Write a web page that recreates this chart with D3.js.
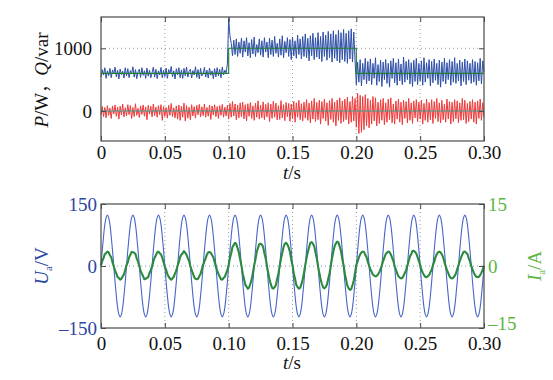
<!DOCTYPE html>
<html><head><meta charset="utf-8">
<script src="https://cdn.jsdelivr.net/npm/d3@7"></script>
<style>
html,body{margin:0;padding:0;background:#fff;}
svg{display:block;font-family:"Liberation Serif","Times New Roman",serif;}
</style></head>
<body>
<svg id="chart" width="553" height="380"></svg>
<script>
// ---------- DATA ----------
const sampleStep = 0.001; // s, samples 0 .. 0.300
const xTicks = [0, 0.05, 0.10, 0.15, 0.20, 0.25, 0.30];
const xTickLabels = ["0", "0.05", "0.10", "0.15", "0.20", "0.25", "0.30"];
const topYTicks = [0, 1000];
const topYTickLabels = ["0", "1000"];
const uTicks = [-150, 0, 150];
const uTickLabels = ["\u2013150", "0", "150"];
const iTicks = [-15, 0, 15];
const iTickLabels = ["\u201315", "0", "15"];

// active power P (W)
const pValues = [
540,660,575,690,520,640,565,680,530,655,
590,700,545,650,510,670,580,635,525,690,
560,675,530,645,595,705,540,660,515,625,
665,535,690,570,640,520,685,555,650,530,
610,700,540,665,515,640,575,695,530,650,
550,685,520,660,590,710,545,640,510,675,
575,690,530,655,520,680,560,700,540,630,
665,525,645,575,705,535,660,510,680,560,
590,695,540,650,525,685,570,640,515,675,
545,690,560,665,530,700,575,650,610,750,
1480,1200,1080,880,1130,900,1150,870,1100,920,
1160,860,1120,940,1170,880,1090,850,1140,910,
1180,870,1060,930,1150,890,1120,860,1170,940,
1100,850,1160,900,1130,870,1190,920,1080,860,
1150,890,1200,850,1110,930,1170,870,1140,820,
1180,880,1120,840,1210,900,1150,830,1190,870,
1230,850,1160,800,1200,880,1240,820,1170,860,
1250,830,1190,790,1260,870,1210,810,1270,850,
1230,780,1280,840,1220,800,1290,770,1250,820,
1300,790,1240,760,1280,830,1310,780,1260,800,
420,780,460,820,400,760,500,840,430,790,
480,830,420,760,520,850,410,740,470,810,
390,780,500,820,440,760,380,800,520,840,
450,770,410,830,480,750,420,860,460,790,
500,820,430,770,390,810,470,840,420,760,
480,800,410,850,460,770,520,820,400,790,
450,830,490,760,420,810,380,780,470,840,
430,770,500,820,410,790,460,850,440,760,
480,810,400,780,470,830,420,800,490,760,
440,820,460,790,410,770,480,840,430,800,620
];
// reactive power Q (var)
const qValues = [
-60,70,-90,55,-110,85,-70,45,-120,80,
-50,95,-85,60,-130,75,-65,110,-95,50,
-80,100,-60,85,-120,55,-90,115,-70,40,
-105,80,-55,95,-85,65,-140,90,-50,75,
-95,110,-75,60,-100,85,-60,100,-150,70,
-85,55,-115,90,-70,120,-90,50,-110,80,
-130,95,-150,75,-100,125,-160,85,-115,60,
-140,100,-80,70,-115,90,-60,105,-95,65,
-75,110,-100,55,-85,95,-135,80,-65,100,
-90,70,-120,85,-70,105,-100,60,-80,90,
-130,120,-100,150,-80,110,-140,95,-110,130,
-90,140,-125,100,-160,115,-85,135,-120,80,
-150,125,-100,160,-130,90,-110,145,-140,105,
-95,130,-170,110,-120,155,-100,125,-145,85,
-135,165,-110,100,-155,135,-90,120,-165,110,
-125,150,-180,130,-100,170,-140,115,-160,140,
-115,180,-150,125,-190,160,-130,200,-170,135,
-140,170,-210,150,-120,190,-160,130,-230,165,
-135,200,-180,140,-240,175,-150,210,-200,160,
-170,190,-140,220,-210,150,-180,230,-160,200,
-260,280,-360,250,-340,230,-300,260,-240,200,
-270,170,-210,230,-160,210,-240,140,-200,180,
-150,200,-220,130,-180,190,-140,210,-190,110,
-210,160,-130,190,-180,140,-220,170,-120,150,
-190,200,-150,130,-200,160,-110,180,-170,140,
-130,170,-210,120,-150,190,-180,135,-140,180,
-200,150,-120,200,-170,130,-190,170,-140,110,
-180,190,-130,150,-210,140,-170,180,-125,160,
-190,130,-150,200,-140,170,-200,120,-170,150,
-130,180,-180,140,-210,160,-120,190,-150,130,-100
];
// reference values (step changes)
const refTimes = [0, 0.10, 0.20, 0.30];
const pRef = [600, 1000, 600, 600];
const qRef = [0, 0, 0, 0];

// phase voltage Ua (V)
const uValues = [
0,38,72,100,117,123,117,100,72,38,0,-38,-72,-100,-117,-123,-117,-100,-72,-38,
0,38,72,100,117,123,117,100,72,38,0,-38,-72,-100,-117,-123,-117,-100,-72,-38,
0,38,72,100,117,123,117,100,72,38,0,-38,-72,-100,-117,-123,-117,-100,-72,-38,
0,38,72,100,117,123,117,100,72,38,0,-38,-72,-100,-117,-123,-117,-100,-72,-38,
0,38,72,100,117,123,117,100,72,38,0,-38,-72,-100,-117,-123,-117,-100,-72,-38,
0,38,72,100,117,123,117,100,72,38,0,-38,-72,-100,-117,-123,-117,-100,-72,-38,
0,38,72,100,117,123,117,100,72,38,0,-38,-72,-100,-117,-123,-117,-100,-72,-38,
0,38,72,100,117,123,117,100,72,38,0,-38,-72,-100,-117,-123,-117,-100,-72,-38,
0,38,72,100,117,123,117,100,72,38,0,-38,-72,-100,-117,-123,-117,-100,-72,-38,
0,38,72,100,117,123,117,100,72,38,0,-38,-72,-100,-117,-123,-117,-100,-72,-38,
0,38,72,100,117,123,117,100,72,38,0,-38,-72,-100,-117,-123,-117,-100,-72,-38,
0,38,72,100,117,123,117,100,72,38,0,-38,-72,-100,-117,-123,-117,-100,-72,-38,
0,38,72,100,117,123,117,100,72,38,0,-38,-72,-100,-117,-123,-117,-100,-72,-38,
0,38,72,100,117,123,117,100,72,38,0,-38,-72,-100,-117,-123,-117,-100,-72,-38,
0,38,72,100,117,123,117,100,72,38,0,-38,-72,-100,-117,-123,-117,-100,-72,-38,
0
];
// phase current Ia (A)
const iValues = [
0.1,1.2,1.9,2.9,3.1,3.5,3.3,2.6,2.1,0.9,-0.1,-1.1,-1.8,-2.7,-2.9,-3.3,-3.1,-2.5,-2.0,-0.9,
0.2,0.9,2.1,2.7,3.4,3.3,3.2,2.9,1.8,1.1,0.1,-1.2,-1.9,-2.5,-3.2,-3.1,-2.9,-2.7,-1.7,-1.0,
-0.1,1.1,2.0,2.6,3.3,3.5,3.1,2.8,2.0,0.9,-0.2,-0.9,-2.0,-2.6,-3.0,-3.3,-3.0,-2.6,-1.8,-1.1,
0.1,1.0,2.2,2.8,3.1,3.6,3.2,2.7,1.9,1.2,0.0,-1.0,-1.8,-2.7,-3.1,-3.2,-3.1,-2.5,-1.9,-0.8,
0.2,1.1,1.9,2.8,3.3,3.4,3.2,2.6,2.1,1.0,-0.1,-1.1,-1.9,-2.6,-3.2,-3.3,-2.9,-2.6,-1.8,-1.0,
0.3,1.9,3.1,4.6,5.1,5.6,5.3,4.3,3.3,1.6,0.1,-1.8,-3.1,-4.5,-5.0,-5.5,-5.2,-4.3,-3.3,-1.6,
0.2,1.6,3.4,4.4,5.3,5.4,5.2,4.6,3.1,1.8,-0.1,-1.6,-3.3,-4.4,-5.3,-5.5,-5.1,-4.6,-3.1,-1.8,
0.1,1.8,3.2,4.6,5.4,5.6,5.2,4.5,3.4,1.6,0.2,-1.8,-3.1,-4.6,-5.1,-5.5,-5.3,-4.4,-3.3,-1.6,
0.2,1.9,3.4,4.6,5.6,5.8,5.4,4.8,3.3,1.9,-0.1,-1.6,-3.3,-4.3,-5.2,-5.4,-5.1,-4.5,-3.1,-1.8,
0.1,1.9,3.5,4.8,5.5,5.9,5.7,4.7,3.6,1.7,0.2,-1.9,-3.3,-4.8,-5.4,-5.8,-5.6,-4.6,-3.5,-1.7,
0.3,1.1,2.1,2.8,3.3,3.5,3.4,2.7,2.1,1.0,0.1,-0.8,-1.4,-2.1,-2.3,-2.5,-2.4,-2.0,-1.5,-0.7,
0.2,1.2,2.0,2.9,3.2,3.5,3.4,2.8,2.0,1.2,0.0,-0.9,-1.8,-2.5,-2.8,-3.0,-2.9,-2.4,-1.7,-1.0,
0.1,1.2,2.3,2.9,3.6,3.7,3.4,3.0,2.1,1.2,0.2,-0.9,-1.6,-2.2,-2.6,-2.7,-2.5,-2.2,-1.5,-0.9,
0.2,1.0,2.1,2.9,3.3,3.5,3.3,2.8,2.1,1.0,-0.1,-1.0,-1.7,-2.5,-2.9,-3.0,-2.8,-2.4,-1.8,-0.8,
0.1,1.2,2.0,2.8,3.4,3.5,3.2,2.9,1.9,1.1,0.1,-0.8,-1.6,-2.2,-2.6,-2.7,-2.6,-2.2,-1.6,-0.9,
0.1
];

// ---------- STYLE ----------
const FONT = 19;
const C = {
  frame: "#4a4a4a", grid: "#9a9a9a", text: "#111",
  p: "#2d4fa8", q: "#ef3a3a", pRef: "#1f7f38", qRef: "#3f9f90",
  u: "#4666c8", i: "#2b8a3e", uText: "#2c46a2", iText: "#5db542", zeroGrid: "#8f8fdc"
};

const svg = d3.select("#chart");
const X0 = 101, X1 = 484;
const xScale = d3.scaleLinear().domain([0, 0.30]).range([X0, X1]);

function drawFrameAndGrid(g, x, y, yTicks, gridColorForZero) {
  g.selectAll(null).data(xTicks.slice(1, -1)).enter().append("line")
    .attr("x1", d => x(d)).attr("x2", d => x(d))
    .attr("y1", y.range()[1]).attr("y2", y.range()[0])
    .attr("stroke", C.grid).attr("stroke-width", 1).attr("stroke-dasharray", "1,3");
  g.selectAll(null).data(yTicks.filter(v => v > y.domain()[0] && v < y.domain()[1])).enter().append("line")
    .attr("x1", X0).attr("x2", X1)
    .attr("y1", d => y(d)).attr("y2", d => y(d))
    .attr("stroke", d => (d === 0 && gridColorForZero) ? gridColorForZero : C.grid)
    .attr("stroke-width", 1).attr("stroke-dasharray", "1,3");
}

function drawBox(g, y) {
  g.append("rect").attr("x", X0).attr("y", y.range()[1])
    .attr("width", X1 - X0).attr("height", y.range()[0] - y.range()[1])
    .attr("fill", "none").attr("stroke", C.frame).attr("stroke-width", 1.2);
}

function drawXAxis(g, x, y, labelBaseline, titleBaseline) {
  const bottom = y.range()[0], topY = y.range()[1];
  const ax = d3.axisBottom(x).tickValues(xTicks).tickFormat((d, i) => xTickLabels[i]).tickSizeInner(-5).tickSizeOuter(0).tickPadding(9);
  const a = g.append("g").attr("transform", `translate(0,${bottom})`).call(ax);
  a.select(".domain").remove();
  a.selectAll(".tick line").attr("stroke", C.frame);
  a.selectAll(".tick text").attr("font-size", FONT).attr("fill", C.text)
    .attr("font-family", "Liberation Serif, serif").attr("dy", null).attr("y", labelBaseline - bottom);
  const axTop = d3.axisTop(x).tickValues(xTicks).tickFormat("").tickSizeInner(-5).tickSizeOuter(0);
  const b = g.append("g").attr("transform", `translate(0,${topY})`).call(axTop);
  b.select(".domain").remove();
  b.selectAll(".tick line").attr("stroke", C.frame);
  const t = g.append("text").attr("x", 292).attr("y", titleBaseline).attr("text-anchor", "middle")
    .attr("font-size", FONT).attr("fill", C.text);
  t.append("tspan").attr("font-style", "italic").text("t");
  t.append("tspan").text("/s");
}

// ---------- TOP PANEL ----------
const xT = xScale;
const yT = d3.scaleLinear().domain([-480, 1500]).range([141, 17]);
const gT = svg.append("g");
drawFrameAndGrid(gT, xT, yT, topYTicks);

const lineT = d3.line().x((d, i) => xT(i * sampleStep)).y(d => yT(d));
gT.append("path").datum(pValues).attr("d", lineT).attr("fill", "none")
  .attr("stroke", C.p).attr("stroke-width", 1).attr("stroke-linejoin", "round");
gT.append("path").datum(qValues).attr("d", lineT).attr("fill", "none")
  .attr("stroke", C.q).attr("stroke-width", 1).attr("stroke-linejoin", "round");
const refLine = d3.line().curve(d3.curveStepAfter).x(d => xT(d[0])).y(d => yT(d[1]));
gT.append("path").datum(refTimes.map((t, i) => [t, qRef[i]])).attr("d", refLine)
  .attr("fill", "none").attr("stroke", C.qRef).attr("stroke-width", 1.1);
gT.append("path").datum(refTimes.map((t, i) => [t, pRef[i]])).attr("d", refLine)
  .attr("fill", "none").attr("stroke", C.pRef).attr("stroke-width", 1.1);

drawBox(gT, yT);
const ayT = d3.axisLeft(yT).tickValues(topYTicks).tickFormat((d, i) => topYTickLabels[i]).tickSizeInner(-5).tickSizeOuter(0).tickPadding(9);
const aT = gT.append("g").attr("transform", `translate(${X0},0)`).call(ayT);
aT.select(".domain").remove();
aT.selectAll(".tick line").attr("stroke", C.frame);
aT.selectAll(".tick text").attr("font-size", FONT).attr("fill", C.text).attr("font-family", "Liberation Serif, serif").attr("dy", "0.33em");
const ayT2 = d3.axisRight(yT).tickValues(topYTicks).tickFormat("").tickSizeInner(-5).tickSizeOuter(0);
const aT2 = gT.append("g").attr("transform", `translate(${X1},0)`).call(ayT2);
aT2.select(".domain").remove();
aT2.selectAll(".tick line").attr("stroke", C.frame);
drawXAxis(gT, xT, yT, 159, 179);

const ylT = gT.append("text").attr("transform", "translate(48,80) rotate(-90)")
  .attr("text-anchor", "middle").attr("font-size", FONT).attr("fill", C.text);
ylT.append("tspan").attr("font-style", "italic").text("P");
ylT.append("tspan").text("/W");
ylT.append("tspan").attr("font-family", "Noto Sans CJK SC").attr("font-size", 17).text("，");
ylT.append("tspan").attr("font-style", "italic").text("Q");
ylT.append("tspan").text("/var");

// ---------- BOTTOM PANEL ----------
const xB = xScale;
const yU = d3.scaleLinear().domain([-150, 150]).range([328, 204]);
const yI = d3.scaleLinear().domain([-15, 15]).range([328, 204]);
const gB = svg.append("g");
drawFrameAndGrid(gB, xB, yU, uTicks, C.zeroGrid);

const lineU = d3.line().curve(d3.curveCatmullRom).x((d, i) => xB(i * sampleStep)).y(d => yU(d));
gB.append("path").datum(uValues).attr("d", lineU).attr("fill", "none")
  .attr("stroke", C.u).attr("stroke-width", 1.1);
const lineI = d3.line().curve(d3.curveLinear).x((d, i) => xB(i * sampleStep)).y(d => yI(d));
gB.append("path").datum(iValues).attr("d", lineI).attr("fill", "none")
  .attr("stroke", C.i).attr("stroke-width", 2.1).attr("stroke-linejoin", "round");

drawBox(gB, yU);
const ayU = d3.axisLeft(yU).tickValues(uTicks).tickFormat((d, i) => uTickLabels[i]).tickSizeInner(-5).tickSizeOuter(0).tickPadding(4);
const aU = gB.append("g").attr("transform", `translate(${X0},0)`).call(ayU);
aU.select(".domain").remove();
aU.selectAll(".tick line").attr("stroke", C.frame);
aU.selectAll(".tick text").attr("font-size", FONT).attr("fill", C.uText).attr("font-family", "Liberation Serif, serif").attr("dy", "0.33em");
const ayI = d3.axisRight(yI).tickValues(iTicks).tickFormat((d, i) => iTickLabels[i]).tickSizeInner(-5).tickSizeOuter(0).tickPadding(4);
const aI = gB.append("g").attr("transform", `translate(${X1},0)`).call(ayI);
aI.select(".domain").remove();
aI.selectAll(".tick line").attr("stroke", C.frame);
aI.selectAll(".tick text").attr("font-size", FONT).attr("fill", C.iText).attr("font-family", "Liberation Serif, serif")
  .attr("dy", d => d < 0 ? "0.1em" : "0.33em");
drawXAxis(gB, xB, yU, 350, 369);

const ylU = gB.append("text").attr("transform", "translate(48,266) rotate(-90)")
  .attr("text-anchor", "middle").attr("font-size", FONT).attr("fill", C.uText);
ylU.append("tspan").attr("font-style", "italic").text("U");
ylU.append("tspan").attr("font-size", 11).attr("dy", 4).text("a");
ylU.append("tspan").attr("dy", -4).text("/V");

const ylI = gB.append("text").attr("transform", "translate(541,266) rotate(-90)")
  .attr("text-anchor", "middle").attr("font-size", FONT).attr("fill", C.iText);
ylI.append("tspan").attr("font-style", "italic").text("I");
ylI.append("tspan").attr("font-size", 11).attr("dy", 4).text("a");
ylI.append("tspan").attr("dy", -4).text("/A");
</script>
</body></html>
